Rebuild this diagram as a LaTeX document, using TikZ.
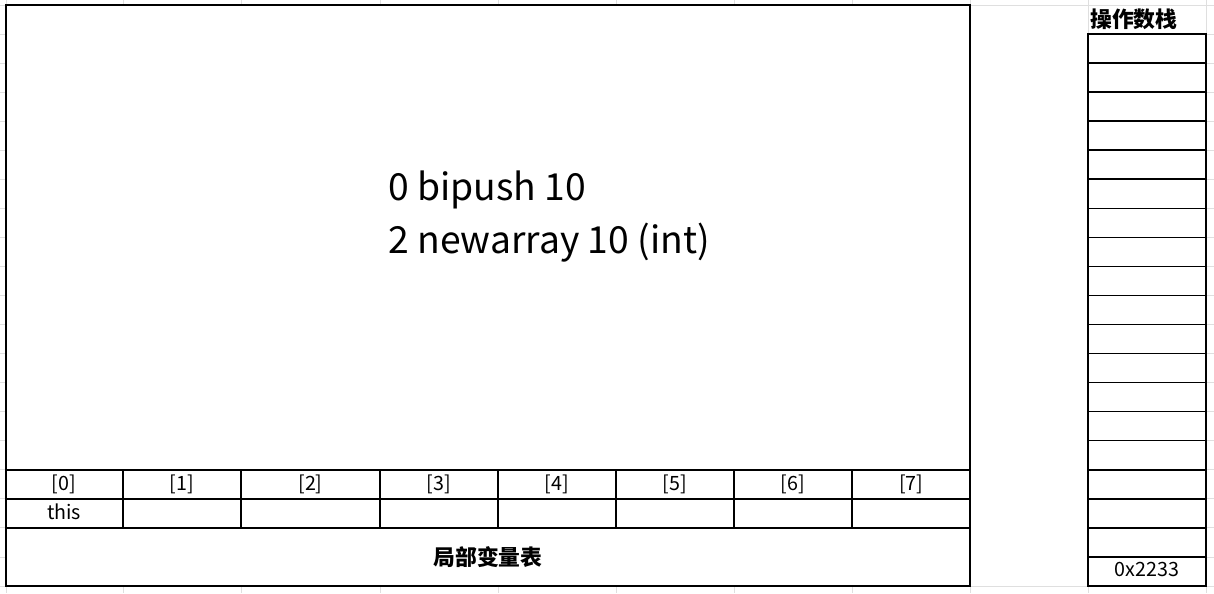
\documentclass[tikz,border=0pt]{standalone}
\usepackage{fontspec}
\setmainfont{Noto Sans CJK SC}
\usetikzlibrary{shapes,positioning,calc}
\colorlet{gridgray}{gray!25}
\newlength\px
\setlength\px{0.025cm}
\newcommand{\cellstrut}{\rule[-9.05\px]{0pt}{29.05\px}}
\newcommand{\stackstrut}{\rule[-9.05\px]{0pt}{\dimexpr29.05\px-1.1pt\relax}}

\begin{document}
\begin{tikzpicture}
  [x=\px, y=-\px,
  relation/.style={
    rectangle split,
    rectangle split parts=#1,
    draw,
    line width=1.1pt,
    fill=white,
    inner sep=0pt,
    outer sep=0pt,
    font=\fontsize{14}{16}\selectfont,
    align=center
    },
  title/.style={font=\fontsize{15.5}{18}\selectfont\bfseries, inner sep=0pt},
  gridline/.style={gridgray, line width=0.6pt}
  ]
  \useasboundingbox (0,0) rectangle (1214,593);

  % griglia del foglio
  \foreach \gx in {6,123,241,380,498,616,734,852,970,1088,1206}
    \draw[gridline] (\gx,0) -- (\gx,593);
  \foreach \gy in {0,...,20}
    \draw[gridline] (0,5+29.05*\gy) -- (1214,5+29.05*\gy);
  \fill[white] (970,5.6) rectangle (1088,585.4);

  \node[draw, line width=1.1pt, fill=white, inner sep=0pt, outer sep=0pt,
    minimum width=964\px, minimum height=581\px, anchor=north west]
    (frame) at (6,5) {};

  \node[anchor=north west, align=left, inner sep=0pt,
    font=\fontsize{26.5}{37.7}\selectfont]
    (bytecode) at (388,171) {0 bipush 10\\2 newarray 10 (int)};

  \node [
    relation=8,
    rectangle split horizontal,
    anchor=north west
    ]
    (indici) at (6,470)
    {
     \nodepart{one}   \makebox[\dimexpr117\px-0.55pt]{\cellstrut[0]}%
     \nodepart{two}   \makebox[\dimexpr118\px-1.1pt]{\cellstrut[1]}%
     \nodepart{three} \makebox[\dimexpr139\px-1.1pt]{\cellstrut[2]}%
     \nodepart{four}  \makebox[\dimexpr118\px-1.1pt]{\cellstrut[3]}%
     \nodepart{five}  \makebox[\dimexpr118\px-1.1pt]{\cellstrut[4]}%
     \nodepart{six}   \makebox[\dimexpr118\px-1.1pt]{\cellstrut[5]}%
     \nodepart{seven} \makebox[\dimexpr118\px-1.1pt]{\cellstrut[6]}%
     \nodepart{eight} \makebox[\dimexpr118\px-0.55pt]{\cellstrut[7]}%
    };
  \node [
    relation=8,
    rectangle split horizontal,
    below=0pt of indici.south west,
    anchor=north west
    ]
    (valori)
    {
     \nodepart{one}   \makebox[\dimexpr117\px-0.55pt]{\cellstrut this}%
     \nodepart{two}   \makebox[\dimexpr118\px-1.1pt]{\cellstrut}%
     \nodepart{three} \makebox[\dimexpr139\px-1.1pt]{\cellstrut}%
     \nodepart{four}  \makebox[\dimexpr118\px-1.1pt]{\cellstrut}%
     \nodepart{five}  \makebox[\dimexpr118\px-1.1pt]{\cellstrut}%
     \nodepart{six}   \makebox[\dimexpr118\px-1.1pt]{\cellstrut}%
     \nodepart{seven} \makebox[\dimexpr118\px-1.1pt]{\cellstrut}%
     \nodepart{eight} \makebox[\dimexpr118\px-0.55pt]{\cellstrut}%
    };
  \node[title, below=29\px of valori.south, anchor=center] (localstitle) {局部变量表};

  \node [
    relation=19,
    text width=118\px,
    anchor=north west
    ]
    (stack) at (1088,34)
    {
     \nodepart{one}       \stackstrut
     \nodepart{two}       \stackstrut
     \nodepart{three}     \stackstrut
     \nodepart{four}      \stackstrut
     \nodepart{five}      \stackstrut
     \nodepart{six}       \stackstrut
     \nodepart{seven}     \stackstrut
     \nodepart{eight}     \stackstrut
     \nodepart{nine}      \stackstrut
     \nodepart{ten}       \stackstrut
     \nodepart{eleven}    \stackstrut
     \nodepart{twelve}    \stackstrut
     \nodepart{thirteen}  \stackstrut
     \nodepart{fourteen}  \stackstrut
     \nodepart{fifteen}   \stackstrut
     \nodepart{sixteen}   \stackstrut
     \nodepart{seventeen} \stackstrut
     \nodepart{eighteen}  \stackstrut
     \nodepart{nineteen}  \stackstrut 0x2233
    };
  \node[title, above=14.5\px of stack.north west, anchor=west, xshift=2\px] (stacktitle) {操作数栈};
\end{tikzpicture}
\end{document}
